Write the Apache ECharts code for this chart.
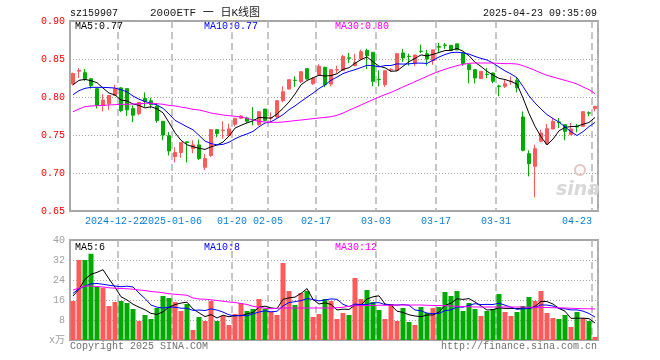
<!DOCTYPE html>
<html><head><meta charset="utf-8">
<script src="https://cdn.jsdelivr.net/npm/echarts@6/dist/echarts.min.js"></script>
<style>html,body{margin:0;padding:0;background:#fff}#c{width:660px;height:360px}</style>
</head><body><div id="c"></div>
<script>
// ---- data ----
const dates = ['2024-12-11','2024-12-12','2024-12-13','2024-12-16','2024-12-17','2024-12-18','2024-12-19','2024-12-20','2024-12-23','2024-12-24',
'2024-12-25','2024-12-26','2024-12-27','2024-12-30','2024-12-31','2025-01-02','2025-01-03','2025-01-06','2025-01-07','2025-01-08',
'2025-01-09','2025-01-10','2025-01-13','2025-01-14','2025-01-15','2025-01-16','2025-01-17','2025-01-20','2025-01-21','2025-01-22',
'2025-01-23','2025-01-24','2025-01-27','2025-02-05','2025-02-06','2025-02-07','2025-02-10','2025-02-11','2025-02-12','2025-02-13',
'2025-02-14','2025-02-17','2025-02-18','2025-02-19','2025-02-20','2025-02-21','2025-02-24','2025-02-25','2025-02-26','2025-02-27',
'2025-02-28','2025-03-03','2025-03-04','2025-03-05','2025-03-06','2025-03-07','2025-03-10','2025-03-11','2025-03-12','2025-03-13',
'2025-03-14','2025-03-17','2025-03-18','2025-03-19','2025-03-20','2025-03-21','2025-03-24','2025-03-25','2025-03-26','2025-03-27',
'2025-03-28','2025-03-31','2025-04-01','2025-04-02','2025-04-03','2025-04-07','2025-04-08','2025-04-09','2025-04-10','2025-04-11',
'2025-04-14','2025-04-15','2025-04-16','2025-04-17','2025-04-18','2025-04-21','2025-04-22','2025-04-23'];

const opens = [0.817,0.834,0.832,0.824,0.811,0.789,0.791,0.802,0.812,0.811,
0.785,0.778,0.798,0.795,0.788,0.768,0.749,0.7215,0.727,0.741,
0.732,0.737,0.7075,0.723,0.757,0.756,0.749,0.764,0.772,0.7724,
0.7705,0.7636,0.7842,0.7724,0.7737,0.7952,0.8105,0.8222,0.8202,0.8373,
0.8175,0.8294,0.839,0.817,0.8355,0.8351,0.8515,0.8412,0.850,0.8614,
0.8588,0.8232,0.8162,0.8355,0.8351,0.8579,0.8537,0.8447,0.8603,0.857,
0.848,0.8665,0.8685,0.868,0.870,0.858,0.8425,0.836,0.8241,0.8300,
0.8316,0.8145,0.814,0.8205,0.822,0.7737,0.7254,0.7088,0.7417,0.7382,
0.7579,0.7672,0.7636,0.7504,0.7612,0.7614,0.7792,0.7846];
const closes = [0.831,0.835,0.824,0.815,0.789,0.796,0.802,0.811,0.782,0.783,
0.776,0.793,0.794,0.790,0.769,0.750,0.729,0.727,0.740,0.740,
0.737,0.719,0.719,0.757,0.752,0.7565,0.758,0.772,0.775,0.768,
0.770,0.7807,0.7693,0.7728,0.7952,0.807,0.8228,0.8218,0.8333,0.8237,
0.8245,0.8404,0.8162,0.836,0.836,0.8535,0.851,0.8456,0.8596,0.8544,
0.8206,0.8228,0.8346,0.8365,0.857,0.8513,0.8533,0.8553,0.860,0.850,
0.862,0.8655,0.868,0.8614,0.862,0.844,0.836,0.825,0.8338,0.8295,
0.8206,0.8135,0.8175,0.8207,0.812,0.7298,0.7123,0.732,0.7526,0.7583,
0.768,0.7665,0.7548,0.7579,0.7605,0.7807,0.7787,0.7877];
const lows = [0.815,0.825,0.821,0.811,0.785,0.781,0.783,0.802,0.780,0.775,
0.767,0.776,0.787,0.785,0.766,0.743,0.723,0.714,0.720,0.714,
0.726,0.717,0.704,0.721,0.747,0.745,0.748,0.761,0.771,0.766,
0.7627,0.7623,0.768,0.768,0.772,0.793,0.810,0.8132,0.8184,0.823,
0.816,0.829,0.8132,0.814,0.8316,0.835,0.8447,0.8404,0.849,0.8368,
0.814,0.814,0.8132,0.833,0.835,0.846,0.8412,0.8404,0.8579,0.8412,
0.8425,0.8588,0.8632,0.861,0.862,0.841,0.818,0.818,0.824,0.825,
0.818,0.8009,0.8118,0.8162,0.806,0.7285,0.6956,0.668,0.7404,0.7373,
0.7579,0.7592,0.743,0.750,0.7535,0.7614,0.7746,0.7811];
const highs = [0.832,0.838,0.837,0.825,0.811,0.804,0.802,0.816,0.813,0.811,
0.789,0.793,0.806,0.799,0.791,0.768,0.754,0.734,0.740,0.741,
0.743,0.744,0.725,0.757,0.757,0.768,0.765,0.772,0.776,0.774,
0.7868,0.7807,0.7842,0.7798,0.7952,0.814,0.823,0.8272,0.8333,0.8373,
0.826,0.843,0.840,0.836,0.8412,0.8555,0.8579,0.857,0.8623,0.8636,
0.8588,0.835,0.835,0.838,0.858,0.8632,0.857,0.8555,0.8689,0.862,
0.862,0.8711,0.8711,0.868,0.870,0.858,0.8425,0.836,0.834,0.838,
0.832,0.8162,0.8228,0.827,0.825,0.781,0.7298,0.7373,0.757,0.7645,
0.7724,0.7724,0.7636,0.7658,0.7645,0.7811,0.7811,0.7877];

const volumes = [15.6,32,32,34.5,21.2,20.9,13.6,15.2,15.6,14.8,
12.4,7.6,10,8.4,12.8,17.6,16.8,15.2,11.6,14.4,
4,9.2,7.6,15.6,7.6,9.6,6,10.4,14.7,11.6,
12.4,16.4,12.5,11.4,10,30.8,19.6,14,18.8,19.6,
9.2,10.4,16.4,15.6,8.4,10.8,10,24.8,16.4,20,
15.2,12,8.4,14.4,7.6,12.8,7.2,6,13.2,10.8,
12.8,13.2,19.2,17.6,19.6,11.6,14.8,12.4,9.6,11.6,
12.4,18.4,11.2,9.6,11.2,13.6,17.2,15.6,19.6,10.8,
8.8,8.4,10,5.2,11.2,8.8,7.6,1.2];

// MA30 lines (their windows reach before the visible range)
const priceMA30 = [0.7807,0.7842,0.7873,0.7882,0.7886,0.7890,0.7895,0.7899,0.7904,0.7904,
0.7908,0.7912,0.7917,0.7917,0.7912,0.7904,0.7890,0.7882,0.7868,0.7855,
0.7838,0.7829,0.7811,0.7789,0.7776,0.7763,0.7754,0.7746,0.7737,0.7719,
0.7697,0.7680,0.7671,0.7667,0.7667,0.7671,0.7680,0.7689,0.7697,0.7706,
0.7715,0.7724,0.7732,0.7741,0.7759,0.7789,0.7825,0.7860,0.7895,0.7930,
0.7965,0.8000,0.8031,0.8061,0.8096,0.8132,0.8167,0.8202,0.8237,0.8272,
0.8307,0.8338,0.8364,0.8390,0.8412,0.8430,0.8443,0.8447,0.8447,0.8447,
0.8447,0.8443,0.8439,0.8439,0.8434,0.8412,0.8382,0.8351,0.8316,0.8285,
0.8263,0.8241,0.8219,0.8197,0.8171,0.8132,0.8096,0.8044];
const volumeMA30 = [20.0,20.8,21.6,21.6,21.4,21.2,20.9,20.7,20.6,20.5,
20.3,20.0,19.8,19.4,19.2,18.9,18.5,18.3,18.1,17.9,
16.8,16.4,16.3,16.1,15.8,15.5,15.2,15.0,14.6,14.2,
13.5,13.1,12.7,12.5,12.7,12.8,12.8,12.8,12.8,12.8,
12.8,12.8,12.8,12.8,12.9,13.1,13.5,13.7,13.8,13.8,
13.8,13.9,13.9,13.9,14.0,14.0,14.0,14.0,14.0,13.9,
13.8,13.8,13.7,13.6,13.5,13.4,13.3,13.2,13.2,13.2,
13.2,13.2,13.2,13.2,13.2,13.2,13.1,13.1,13.0,13.0,
12.9,12.9,12.8,12.7,12.6,12.5,12.5,12.4];
// first points of the short MAs (their windows reach before the visible range)
const priceMA5Lead = [0.8162,0.8219,0.8232,0.8215];
const priceMA10Lead = [0.8031,0.8083,0.8114,0.8127,0.8127,0.8127,0.8123,0.8118,0.8096];
const volumeMA5Lead = [17.6,20.3,24.3,26.3];
const volumeMA10Lead = [18.7,20.5,21.6,22.5,22.6,22.3,21.9,21.6,21.3];

const tickIndex = [8,17,27,33,41,51,61,71,87];
const tickText = ['2024-12-22','2025-01-06','01-20','02-05','02-17','03-03','03-17','03-31','04-23'];

// ---- build ----
function movingAvg(src, n, lead){
  return src.map((_, i) => {
    if (i < n - 1) return lead[i];
    let s = 0; for (let k = i - n + 1; k <= i; k++) s += src[k];
    return +(s / n).toFixed(4);
  });
}
const RED = '#ff5a5a', GREEN = '#00aa00', BLUE_TXT = '#0a7ed3';
const ohlc = opens.map((o, i) => [o, closes[i], lows[i], highs[i]]);
const volData = volumes.map((v, i) => ({value: v, itemStyle: {color: closes[i] >= opens[i] ? RED : GREEN}}));
const MONO = "'Liberation Mono','DejaVu Sans Mono','Noto Sans CJK SC',monospace";
const isTick = (i) => tickIndex.indexOf(i) >= 0;
const lastTick = tickIndex[tickIndex.length - 1], firstTick = tickIndex[0];

const chart = echarts.init(document.getElementById('c'), null, {renderer: 'canvas'});
const gridBase = {left: 70, width: 528, show: true, borderColor: '#a8a8a8', borderWidth: 2, backgroundColor: '#fff'};
const splitDashed = {color: '#b4b4b4', width: 1.5, type: [7, 4]};
const labelBase = {color: BLUE_TXT, fontSize: 10, fontFamily: MONO, margin: 5, hideOverlap: false};

chart.setOption({
  animation: false,
  backgroundColor: '#fff',
  grid: [Object.assign({top: 21, height: 190}, gridBase), Object.assign({top: 240, height: 100}, gridBase)],
  xAxis: [
    {type: 'category', data: dates, boundaryGap: true, gridIndex: 0,
     axisLine: {show: false}, axisTick: {show: false},
     splitLine: {show: true, interval: (i) => isTick(i), lineStyle: splitDashed},
     axisLabel: Object.assign({}, labelBase, {
       interval: (i) => isTick(i) && i !== firstTick,
       padding: [0, 6, 0, 0],
       formatter: (v, i) => {
         const t = tickText[tickIndex.indexOf(i)] || '';
         return i === lastTick ? '{r|' + t + '}' : t;
       },
       rich: {r: {padding: [0, 30, 0, 0], color: BLUE_TXT, fontSize: 10, fontFamily: MONO}}})},
    {type: 'category', data: dates, boundaryGap: true, gridIndex: 1,
     axisLine: {show: false}, axisTick: {show: false}, axisLabel: {show: false},
     splitLine: {show: true, interval: (i) => isTick(i), lineStyle: splitDashed}},
    // extra label-only axis for the first date label (it touches the next one)
    {type: 'category', data: dates, boundaryGap: true, gridIndex: 0, position: 'bottom',
     axisLine: {show: false}, axisTick: {show: false}, splitLine: {show: false},
     axisLabel: Object.assign({}, labelBase, {
       interval: (i) => i === firstTick, padding: [0, 12, 0, 0],
       formatter: (v, i) => tickText[tickIndex.indexOf(i)] || ''})}
  ],
  yAxis: [
    {type: 'value', gridIndex: 0, min: 0.65, max: 0.90, interval: 0.05, axisLine: {show: false}, axisTick: {show: false},
     axisLabel: {color: '#ff0000', fontSize: 10, fontFamily: MONO, margin: 5, formatter: (v) => v.toFixed(2)},
     splitLine: {lineStyle: {color: '#a0a0a0', width: 1, type: [1, 2]}}},
    {type: 'value', gridIndex: 1, min: 0, max: 40, interval: 8, axisLine: {show: false}, axisTick: {show: false},
     axisLabel: {color: '#a0a0a0', fontSize: 10, fontFamily: MONO, margin: 5, formatter: (v) => v === 0 ? 'x万' : String(v)},
     splitLine: {lineStyle: {color: '#a0a0a0', width: 1, type: [1, 2]}}}
  ],
  series: [
    {type: 'candlestick', data: ohlc, xAxisIndex: 0, yAxisIndex: 0, barWidth: 4,
     itemStyle: {color: RED, color0: GREEN, borderColor: RED, borderColor0: GREEN, borderWidth: 1}, silent: true},
    line('MA5', movingAvg(closes, 5, priceMA5Lead), '#000000', 0, 0),
    line('MA10', movingAvg(closes, 10, priceMA10Lead), '#0000ff', 0, 0),
    line('MA30', priceMA30, '#ff00ff', 0, 0),
    {type: 'bar', data: volData, xAxisIndex: 1, yAxisIndex: 1, barWidth: 5, silent: true},
    line('VMA5', movingAvg(volumes, 5, volumeMA5Lead), '#000000', 1, 1),
    line('VMA10', movingAvg(volumes, 10, volumeMA10Lead), '#0000ff', 1, 1),
    line('VMA30', volumeMA30, '#ff00ff', 1, 1)
  ],
  graphic: [
    txt('sz159907', 70, 13, '#111', 'left', 10),
    txt('2000ETF 一 日K线图', 150, 13, '#222', 'left', 11),
    txt('2025-04-23 09:35:09', 597, 13, '#111', 'right', 10),
    txt('MA5:0.77', 75, 26, '#000', 'left', 10),
    txt('MA10:0.77', 204, 26, '#0000ff', 'left', 10),
    txt('MA30:0.80', 335, 26, '#ff00ff', 'left', 10),
    txt('MA5:6', 75, 247, '#000', 'left', 10),
    txt('MA10:8', 204, 247, '#0000ff', 'left', 10),
    txt('MA30:12', 335, 247, '#ff00ff', 'left', 10),
    txt('Copyright 2025 SINA.COM', 70, 346, '#707070', 'left', 10),
    txt('http://finance.sina.com.cn', 597, 346, '#707070', 'right', 10),
    {type: 'circle', shape: {cx: 580, cy: 170, r: 5}, style: {fill: 'none', stroke: '#e6c4c4', lineWidth: 2}, silent: true, z: 1},
    {type: 'text', x: 578, y: 190, silent: true, z: 1,
     style: {text: 'sina', fill: '#d8d8d8', font: 'italic bold 19px "DejaVu Sans", sans-serif', textAlign: 'center', textVerticalAlign: 'middle'}}
  ]
});

function line(name, data, color, xi, yi){
  return {type: 'line', name, data, xAxisIndex: xi, yAxisIndex: yi, symbol: 'none', smooth: false,
    lineStyle: {color, width: 1}, itemStyle: {color}, z: 5, silent: true};
}
function txt(text, x, y, fill, align, size){
  return {type: 'text', x, y, silent: true, z: 100,
    style: {text, fill, font: (size || 10) + 'px ' + MONO, textAlign: align || 'left', textVerticalAlign: 'middle'}};
}
</script></body></html>
